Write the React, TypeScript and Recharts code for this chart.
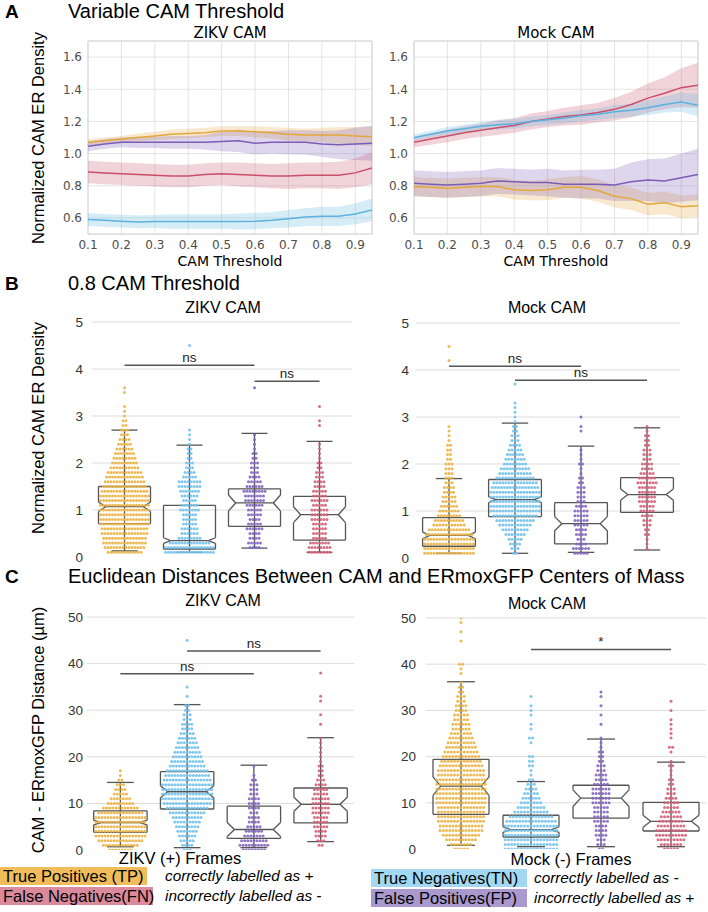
import React from "react";
import {
  ComposedChart,
  ScatterChart,
  Scatter,
  Line,
  Area,
  XAxis,
  YAxis,
  CartesianGrid,
  ReferenceLine,
  ReferenceArea,
  ReferenceDot,
} from "recharts";

// ---- panel A: variable CAM threshold ----
const thresholds = [0.1, 0.15, 0.2, 0.25, 0.3, 0.35, 0.4, 0.45, 0.5, 0.55, 0.6, 0.65, 0.7, 0.75, 0.8, 0.85, 0.9, 0.95];
const thresholdTicks = [0.1, 0.2, 0.3, 0.4, 0.5, 0.6, 0.7, 0.8, 0.9];
const densityTicksA = [0.6, 0.8, 1.0, 1.2, 1.4, 1.6];

// ZIKV CAM: mean and half-width of the band
const zikvTP = [1.07, 1.08, 1.09, 1.1, 1.11, 1.12, 1.125, 1.13, 1.14, 1.14, 1.135, 1.13, 1.12, 1.115, 1.115, 1.115, 1.11, 1.105];
const zikvTPErr = [0.02, 0.02, 0.02, 0.025, 0.025, 0.03, 0.03, 0.03, 0.03, 0.03, 0.035, 0.035, 0.04, 0.04, 0.045, 0.05, 0.055, 0.06];
const zikvFP = [1.045, 1.06, 1.07, 1.07, 1.07, 1.07, 1.07, 1.07, 1.075, 1.08, 1.065, 1.07, 1.07, 1.07, 1.06, 1.055, 1.06, 1.065];
const zikvFPErr = [0.03, 0.03, 0.03, 0.035, 0.035, 0.04, 0.04, 0.045, 0.06, 0.07, 0.07, 0.07, 0.075, 0.075, 0.08, 0.09, 0.1, 0.11];
const zikvFN = [0.885, 0.88, 0.875, 0.87, 0.865, 0.86, 0.86, 0.87, 0.875, 0.87, 0.865, 0.86, 0.86, 0.865, 0.865, 0.865, 0.88, 0.91];
const zikvFNErr = [0.07, 0.07, 0.07, 0.07, 0.07, 0.07, 0.07, 0.07, 0.07, 0.075, 0.075, 0.075, 0.08, 0.08, 0.08, 0.085, 0.09, 0.1];
const zikvTN = [0.59, 0.585, 0.58, 0.575, 0.578, 0.578, 0.578, 0.578, 0.578, 0.578, 0.58, 0.585, 0.595, 0.605, 0.61, 0.61, 0.625, 0.65];
const zikvTNErr = [0.04, 0.04, 0.04, 0.04, 0.04, 0.045, 0.045, 0.045, 0.045, 0.05, 0.05, 0.05, 0.055, 0.055, 0.06, 0.06, 0.065, 0.07];

// Mock CAM
const mockTN = [1.1, 1.12, 1.14, 1.155, 1.17, 1.18, 1.185, 1.2, 1.21, 1.22, 1.235, 1.245, 1.26, 1.27, 1.285, 1.305, 1.32, 1.3];
const mockTNErr = [0.02, 0.02, 0.025, 0.025, 0.025, 0.03, 0.03, 0.03, 0.03, 0.035, 0.035, 0.035, 0.04, 0.04, 0.045, 0.05, 0.06, 0.07];
const mockFN = [1.07, 1.09, 1.11, 1.13, 1.145, 1.16, 1.175, 1.2, 1.215, 1.23, 1.24, 1.255, 1.275, 1.305, 1.345, 1.375, 1.41, 1.425];
const mockFNErr = [0.03, 0.035, 0.04, 0.04, 0.04, 0.045, 0.045, 0.05, 0.05, 0.055, 0.06, 0.06, 0.07, 0.08, 0.09, 0.1, 0.12, 0.14];
const mockFP = [0.815, 0.81, 0.805, 0.81, 0.815, 0.83, 0.825, 0.82, 0.82, 0.81, 0.81, 0.81, 0.805, 0.825, 0.835, 0.83, 0.85, 0.87];
const mockFPErr = [0.08, 0.08, 0.08, 0.08, 0.08, 0.08, 0.08, 0.08, 0.085, 0.085, 0.09, 0.09, 0.1, 0.12, 0.13, 0.14, 0.15, 0.16];
const mockTP = [0.795, 0.79, 0.785, 0.79, 0.795, 0.795, 0.775, 0.77, 0.775, 0.79, 0.79, 0.77, 0.735, 0.72, 0.685, 0.695, 0.67, 0.675];
const mockTPErr = [0.06, 0.06, 0.06, 0.06, 0.06, 0.06, 0.06, 0.06, 0.065, 0.065, 0.07, 0.07, 0.07, 0.07, 0.07, 0.07, 0.07, 0.07];

// ---- panels B and C: swarm counts per row, outliers, box stats ----
// group order: TP, TN, FP, FN
// B rows start at 0.1, step 0.1
const bZikvTP = [12, 14, 15, 15, 16, 16, 17, 17, 17, 17, 17, 17, 17, 16, 15, 14, 13, 12, 10, 9, 8, 7, 6, 5, 4, 3, 3, 2, 2, 1, 1];
const bZikvTN = [17, 17, 14, 8, 6, 6, 5, 5, 5, 7, 6, 5, 6, 7, 8, 8, 5, 4, 3, 3, 2, 2, 2, 1, 1, 1, 1];
const bZikvFP = [0, 4, 5, 4, 4, 6, 5, 4, 5, 5, 6, 7, 7, 8, 6, 5, 4, 3, 3, 3, 2, 2, 1, 1, 1, 1];
const bZikvFN = [8, 8, 7, 5, 5, 5, 5, 6, 6, 6, 5, 6, 5, 5, 4, 4, 3, 3, 2, 2, 1, 1, 1, 1];
const bZikvOut = [[3.2, 3.5, 3.6], [4.5], [3.6], [2.8, 2.9, 3.2]];
const bZikvBox = [
  // lo, q1, median, q3, hi, notch half-height
  [0.13, 0.71, 1.07, 1.5, 2.7, 0.1],
  [0.1, 0.17, 0.35, 1.1, 2.38, 0.06],
  [0.19, 0.65, 1.15, 1.45, 2.63, 0.17],
  [0.1, 0.36, 0.9, 1.29, 2.46, 0.17],
];

const bMockTP = [17, 17, 17, 17, 16, 14, 11, 10, 8, 7, 6, 5, 5, 4, 4, 3, 3, 3, 3, 3, 2, 2, 2, 2, 1, 1, 1, 1];
const bMockTN = [2, 3, 4, 5, 7, 9, 11, 13, 15, 17, 17, 17, 17, 17, 16, 15, 13, 11, 10, 8, 7, 6, 5, 4, 3, 3, 2, 2];
const bMockFP = [5, 6, 4, 3, 4, 4, 5, 5, 5, 5, 4, 3, 3, 3, 3, 2, 2, 1, 1, 2, 1, 1, 1];
const bMockFN = [0, 1, 1, 1, 2, 2, 3, 3, 4, 5, 5, 6, 6, 6, 6, 7, 6, 5, 4, 4, 3, 3, 3, 2, 2, 2, 1, 1];
const bMockOut = [[4.2, 4.5], [2.9, 3.0, 3.1, 3.2, 3.3, 3.7], [2.7, 2.8, 3.0], []];
const bMockBox = [
  [0.1, 0.25, 0.48, 0.86, 1.69, 0.07],
  [0.1, 0.88, 1.24, 1.67, 2.87, 0.06],
  [0.12, 0.3, 0.73, 1.18, 2.38, 0.15],
  [0.17, 0.97, 1.35, 1.71, 2.77, 0.12],
];

// C rows start at 0, step 1
const cZikvTP = [8, 12, 15, 17, 17, 17, 17, 17, 15, 12, 9, 7, 5, 4, 3, 2, 1, 1];
const cZikvTN = [3, 4, 5, 6, 7, 8, 9, 10, 12, 14, 16, 17, 17, 17, 17, 16, 15, 14, 12, 11, 10, 9, 8, 7, 6, 5, 4, 4, 3, 3, 2, 2];
const cZikvFP = [8, 10, 9, 7, 6, 5, 4, 4, 3, 4, 4, 4, 3, 3, 3, 2, 1, 0, 1];
const cZikvFN = [0, 2, 3, 4, 4, 5, 5, 5, 6, 6, 6, 6, 5, 5, 4, 3, 2, 2, 2, 1, 1, 1, 1, 1, 1];
const cZikvOut = [[], [33, 35, 45], [], [27, 29, 32, 33, 38]];
const cZikvBox = [
  [0.7, 3.8, 5.9, 8.4, 14.5, 0.5],
  [0.5, 8.8, 12.5, 16.8, 31.2, 1.3],
  [0.5, 2.5, 4.4, 9.4, 18.2, 1.5],
  [1.8, 5.8, 9.8, 13.3, 24.1, 1.5],
];

const cMockTP = [5, 7, 10, 12, 14, 14, 15, 15, 15, 15, 16, 16, 16, 16, 16, 16, 15, 15, 14, 13, 12, 11, 10, 9, 8, 7, 6, 6, 5, 5, 4, 4, 3, 3, 2, 2, 1];
const cMockTN = [17, 17, 17, 17, 17, 17, 16, 14, 11, 9, 7, 6, 5, 4, 3, 2, 1, 1, 2, 2, 2];
const cMockFP = [2, 3, 3, 4, 4, 4, 5, 5, 5, 5, 6, 6, 6, 6, 5, 4, 4, 3, 3, 2, 2, 2, 1, 1, 1];
const cMockFN = [5, 7, 9, 10, 10, 9, 8, 7, 6, 5, 5, 4, 3, 3, 2, 2, 1, 1, 2, 1];
const cMockOut = [[38, 39, 40, 40, 45, 47, 49, 50], [23, 24, 24, 26, 27, 29, 30, 31, 33], [27, 29, 31, 33, 34], [21, 22, 22, 24, 25, 26, 27, 28, 30, 32]];
const cMockBox = [
  [0.8, 7.5, 13.6, 19.4, 36.2, 2.0],
  [0.5, 2.6, 4.2, 7.3, 14.6, 0.6],
  [0.5, 6.7, 11, 13.8, 23.8, 1.8],
  [0.5, 3.9, 6, 10.1, 18.8, 1.3],
];

// significance bars: from group, to group, height, label
const bZikvSig: [number, number, number, string][] = [[0, 2, 4.08, "ns"], [2, 3, 3.74, "ns"]];
const bMockSig: [number, number, number, string][] = [[0, 2, 4.08, "ns"], [1, 3, 3.78, "ns"]];
const cZikvSig: [number, number, number, string][] = [[0, 2, 37.8, "ns"], [1, 3, 42.7, "ns"]];
const cMockSig: [number, number, number, string][] = [[1, 3, 43.2, "*"]];

const densityTicksB = [0, 1, 2, 3, 4, 5];
const distanceTicksC = [0, 10, 20, 30, 40, 50];

const LINE = { TP: "#E2A73A", TN: "#5AB2E0", FP: "#7C5DB6", FN: "#C94F6B" };
const DOT = ["#EAB445", "#72C2EB", "#8466BF", "#D06179"];
const BOX_STROKE = "#555555";
const SANS = '"Liberation Sans", Arial, sans-serif';
const DEJAVU = '"DejaVu Sans", sans-serif';

const DX = 0.046;
const BOX_W = 0.4;
const NOTCH_W = 0.11;
const CAP_W = 0.2;

function swarm(counts: number[], start: number, step: number, outliers: number[], group: number) {
  const rows = new Map<number, number>();
  counts.forEach((n, i) => {
    if (n > 0) rows.set(+(start + i * step).toFixed(3), n);
  });
  outliers.forEach((v) => rows.set(v, (rows.get(v) ?? 0) + 1));
  const pts: { x: number; y: number }[] = [];
  rows.forEach((n, v) => {
    for (let k = 0; k < n; k++) pts.push({ x: group + (k - (n - 1) / 2) * DX, y: v });
  });
  return pts;
}

function seg(key: string, a: [number, number], b: [number, number], stroke = BOX_STROKE, w = 1.3) {
  return (
    <ReferenceLine
      key={key}
      segment={[{ x: a[0], y: a[1] }, { x: b[0], y: b[1] }]}
      stroke={stroke}
      strokeWidth={w}
      ifOverflow="visible"
    />
  );
}

function whiskers(rows: number[][], p: string) {
  return rows.map(([lo, , , , hi], i) => seg(`${p}w${i}`, [i, lo], [i, hi]));
}

function boxes(rows: number[][], p: string) {
  const out: React.ReactElement[] = [];
  rows.forEach(([lo, q1, med, q3, hi, nh], i) => {
    const l = i - BOX_W;
    const r = i + BOX_W;
    const pts: [number, number][] = [
      [l, q1], [r, q1], [r, med - nh], [r - NOTCH_W, med], [r, med + nh], [r, q3],
      [l, q3], [l, med + nh], [l + NOTCH_W, med], [l, med - nh], [l, q1],
    ];
    for (let k = 0; k < pts.length - 1; k++) out.push(seg(`${p}b${i}-${k}`, pts[k], pts[k + 1]));
    out.push(seg(`${p}m${i}`, [l + NOTCH_W, med], [r - NOTCH_W, med]));
    out.push(seg(`${p}lc${i}`, [i - CAP_W, lo], [i + CAP_W, lo]));
    out.push(seg(`${p}hc${i}`, [i - CAP_W, hi], [i + CAP_W, hi]));
  });
  return out;
}

function sigBars(sig: [number, number, number, string][], p: string) {
  const out: React.ReactElement[] = [];
  sig.forEach(([a, b, y, label], i) => {
    out.push(seg(`${p}s${i}`, [a, y], [b, y], "#555", 1.5));
    out.push(
      <ReferenceDot
        key={`${p}sl${i}`}
        x={(a + b) / 2}
        y={y}
        r={0}
        fill="none"
        stroke="none"
        ifOverflow="visible"
        label={{ value: label, position: "top", offset: 3, fill: "#222", fontSize: 13.5, fontFamily: SANS }}
      />
    );
  });
  return out;
}

function Txt({
  x, y, children, size = 16, center = false, family = SANS, bold = false, italic = false, rotate = false, color = "#000",
}: {
  x: number; y: number; children: React.ReactNode; size?: number; center?: boolean; family?: string;
  bold?: boolean; italic?: boolean; rotate?: boolean; color?: string;
}) {
  const tx = center || rotate ? "-50%" : "0";
  return (
    <div
      style={{
        position: "absolute", left: x, top: y, fontSize: size, fontFamily: family, color,
        fontWeight: bold ? 700 : 400, fontStyle: italic ? "italic" : "normal", lineHeight: 1, whiteSpace: "nowrap",
        transform: `translate(${tx}, -50%)${rotate ? " rotate(-90deg)" : ""}`,
      }}
    >
      {children}
    </div>
  );
}

function buildRows(series: [string, number[], number[]][]) {
  return thresholds.map((x, i) => {
    const row: Record<string, number | number[]> = { x };
    series.forEach(([k, m, e]) => {
      row[k] = m[i];
      row[k + "Band"] = [+(m[i] - e[i]).toFixed(3), +(m[i] + e[i]).toFixed(3)];
    });
    return row;
  });
}

const zikvRows = buildRows([["tp", zikvTP, zikvTPErr], ["fp", zikvFP, zikvFPErr], ["fn", zikvFN, zikvFNErr], ["tn", zikvTN, zikvTNErr]]);
const mockRows = buildRows([["tn", mockTN, mockTNErr], ["fn", mockFN, mockFNErr], ["fp", mockFP, mockFPErr], ["tp", mockTP, mockTPErr]]);

function ThresholdChart({ data, yWidth, right }: { data: Record<string, number | number[]>[]; yWidth: number; right: number }) {
  const tick = { fill: "#4d4d4d", fontSize: 12, fontFamily: DEJAVU };
  const keys: [string, string][] = [["tp", LINE.TP], ["fp", LINE.FP], ["fn", LINE.FN], ["tn", LINE.TN]];
  return (
    <ComposedChart width={yWidth + 284 + right} height={270} data={data} margin={{ top: 41, right, left: 0, bottom: 6 }}>
      <CartesianGrid stroke="#e4e4e4" />
      <XAxis
        dataKey="x" type="number" domain={[0.1, 0.95]} ticks={thresholdTicks} allowDataOverflow
        axisLine={false} tickLine={false} tick={tick} height={30} tickMargin={0} tickFormatter={(v: number) => v.toFixed(1)}
      />
      <YAxis
        type="number" domain={[0.5, 1.7]} ticks={densityTicksA} allowDataOverflow width={yWidth}
        axisLine={false} tickLine={false} tick={tick} tickMargin={0} tickFormatter={(v: number) => v.toFixed(1)}
      />
      <ReferenceArea x1={0.1} x2={0.95} y1={0.5} y2={1.7} fill="none" stroke="#d6d6d6" />
      {keys.map(([k, c]) => (
        <Area key={k + "b"} dataKey={k + "Band"} type="linear" stroke="none" fill={c} fillOpacity={0.25} isAnimationActive={false} />
      ))}
      {keys.map(([k, c]) => (
        <Line key={k} dataKey={k} type="linear" stroke={c} strokeWidth={1.5} dot={false} isAnimationActive={false} />
      ))}
    </ComposedChart>
  );
}

function SwarmChart({
  counts, outliers, box, sig, start, step, domain, ticks, yWidth, width, height, margin, tickMargin, p,
}: {
  counts: number[][]; outliers: number[][]; box: number[][]; sig: [number, number, number, string][];
  start: number; step: number; domain: [number, number]; ticks: number[]; yWidth: number; width: number;
  height: number; margin: { top: number; right: number; left: number; bottom: number }; tickMargin: number; p: string;
}) {
  return (
    <ScatterChart width={width} height={height} margin={margin}>
      <CartesianGrid vertical={false} horizontalValues={ticks.filter((t) => t > 0)} stroke="#dcdcdc" />
      <XAxis dataKey="x" type="number" domain={[-0.5, 3.5]} hide />
      <YAxis
        dataKey="y" type="number" domain={domain} ticks={ticks} width={yWidth} allowDataOverflow
        axisLine={false} tickLine={false} tickMargin={tickMargin}
        tick={{ fill: "#333", fontSize: 13.5, fontFamily: SANS }}
      />
      {whiskers(box, p)}
      {counts.map((c, g) => (
        <Scatter
          key={g}
          data={swarm(c, start, step, outliers[g], g)}
          isAnimationActive={false}
          shape={(s: { cx?: number; cy?: number }) => <circle cx={s.cx} cy={s.cy} r={1.5} fill={DOT[g]} fillOpacity={0.9} />}
        />
      ))}
      {boxes(box, p)}
      {sigBars(sig, p)}
    </ScatterChart>
  );
}

function Abs({ x, y, children }: { x: number; y: number; children: React.ReactNode }) {
  return <div style={{ position: "absolute", left: x, top: y }}>{children}</div>;
}

function LegendBox({ x, y, w, noteX, color, label, note }: { x: number; y: number; w: number; noteX: number; color: string; label: string; note: string }) {
  return (
    <>
      <div style={{ position: "absolute", left: x, top: y, width: w, height: 18, background: color }} />
      <Txt x={x + 3} y={y + 9} size={16.5}>{label}</Txt>
      <Txt x={noteX} y={y + 9} size={15.3} italic>{note}</Txt>
    </>
  );
}

export default function App() {
  return (
    <div style={{ position: "absolute", left: 0, top: 0, width: 708, height: 912, background: "#fff", overflow: "hidden" }}>
      {/* A */}
      <Abs x={0} y={0}><ThresholdChart data={zikvRows} yWidth={88} right={8} /></Abs>
      <Abs x={354} y={0}><ThresholdChart data={mockRows} yWidth={60} right={10} /></Abs>
      <Txt x={5} y={11} size={19} bold>A</Txt>
      <Txt x={68} y={11} size={20}>Variable CAM Threshold</Txt>
      <Txt x={230} y={33} size={15} family={DEJAVU} center>ZIKV CAM</Txt>
      <Txt x={556} y={33} size={15} family={DEJAVU} center>Mock CAM</Txt>
      <Txt x={230} y={261} size={14} family={DEJAVU} center>CAM Threshold</Txt>
      <Txt x={556} y={261} size={14} family={DEJAVU} center>CAM Threshold</Txt>
      <Txt x={38} y={138} size={16.5} rotate>Normalized CAM ER Density</Txt>

      {/* B */}
      <Abs x={0} y={300}>
        <SwarmChart
          counts={[bZikvTP, bZikvTN, bZikvFP, bZikvFN]} outliers={bZikvOut} box={bZikvBox} sig={bZikvSig}
          start={0.1} step={0.1} domain={[0, 5]} ticks={densityTicksB} yWidth={92} width={360} height={270}
          margin={{ top: 22, right: 8, left: 0, bottom: 13 }} tickMargin={3} p="bz"
        />
      </Abs>
      <Abs x={354} y={300}>
        <SwarmChart
          counts={[bMockTP, bMockTN, bMockFP, bMockFN]} outliers={bMockOut} box={bMockBox} sig={bMockSig}
          start={0.1} step={0.1} domain={[0, 5]} ticks={densityTicksB} yWidth={62} width={354} height={270}
          margin={{ top: 23, right: 28, left: 0, bottom: 12 }} tickMargin={1} p="bm"
        />
      </Abs>
      <Txt x={5} y={283} size={19} bold>B</Txt>
      <Txt x={68} y={283} size={20}>0.8 CAM Threshold</Txt>
      <Txt x={223} y={308} size={16} center>ZIKV CAM</Txt>
      <Txt x={547} y={308} size={16} center>Mock CAM</Txt>
      <Txt x={38} y={428} size={16.5} rotate>Normalized CAM ER Density</Txt>

      {/* C */}
      <Abs x={0} y={590}>
        <SwarmChart
          counts={[cZikvTP, cZikvTN, cZikvFP, cZikvFN]} outliers={cZikvOut} box={cZikvBox} sig={cZikvSig}
          start={0} step={1} domain={[0, 50]} ticks={distanceTicksC} yWidth={87} width={360} height={280}
          margin={{ top: 27, right: 6, left: 0, bottom: 20 }} tickMargin={-2} p="cz"
        />
      </Abs>
      <Abs x={354} y={590}>
        <SwarmChart
          counts={[cMockTP, cMockTN, cMockFP, cMockFN]} outliers={cMockOut} box={cMockBox} sig={cMockSig}
          start={0} step={1} domain={[0, 50]} ticks={distanceTicksC} yWidth={72} width={354} height={280}
          margin={{ top: 28, right: 2, left: 0, bottom: 21 }} tickMargin={4} p="cm"
        />
      </Abs>
      <Txt x={5} y={576} size={19} bold>C</Txt>
      <Txt x={68} y={576} size={20}>Euclidean Distances Between CAM and ERmoxGFP Centers of Mass</Txt>
      <Txt x={223} y={601} size={16} center>ZIKV CAM</Txt>
      <Txt x={547} y={604} size={16} center>Mock CAM</Txt>
      <Txt x={38} y={730} size={16.5} rotate>CAM - ERmoxGFP Distance (µm)</Txt>
      <Txt x={180} y={858} size={16.5} center>ZIKV (+) Frames</Txt>
      <Txt x={571} y={859} size={16.5} center>Mock (-) Frames</Txt>

      {/* legend */}
      <LegendBox x={0} y={867} w={147} noteX={165} color="#F1BD5B" label="True Positives (TP)" note="correctly labelled as +" />
      <LegendBox x={0} y={887} w={153} noteX={165} color="#DA8A9B" label="False Negatives(FN)" note="incorrectly labelled as -" />
      <LegendBox x={371} y={869} w={156} noteX={534} color="#A3D8F2" label="True Negatives(TN)" note="correctly labelled as -" />
      <LegendBox x={371} y={889} w={156} noteX={534} color="#A999CF" label="False Positives(FP)" note="incorrectly labelled as +" />
    </div>
  );
}
